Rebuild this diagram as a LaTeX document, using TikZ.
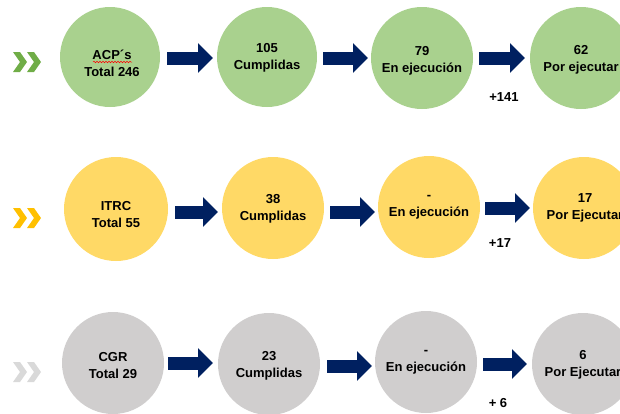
\documentclass[tikz,border=0pt]{standalone}
\usepackage{fontspec}
\setmainfont{Liberation Sans}
\usetikzlibrary{arrows.meta,decorations.pathmorphing,calc}
\definecolor{cgreen}{HTML}{A9D18E}
\definecolor{cyellow}{HTML}{FFD966}
\definecolor{cgray}{HTML}{D0CECE}
\definecolor{chgreen}{HTML}{70AD47}
\definecolor{chyellow}{HTML}{FFC000}
\definecolor{chgray}{HTML}{D9D9D9}
\definecolor{navy}{HTML}{002060}
\tikzset{
  bub/.style={circle, inner sep=0pt, minimum size=102pt},
  btext/.style={inner sep=0pt, align=center,
    font=\bfseries\fontsize{13}{17}\selectfont, text=black},
  bigarrow/.style={draw=navy, line width=13pt, line cap=butt,
    -{Triangle[length=15pt,width=29pt]}},
  plus/.style={font=\bfseries\fontsize{13}{15}\selectfont, text=black},
  chev/.pic={\fill (0,-10) -- (7,-10) -- (14,0) -- (7,10) -- (0,10) -- (7,0) -- cycle;
             \fill (14,-10) -- (21,-10) -- (28,0) -- (21,10) -- (14,10) -- (21,0) -- cycle;}
}
\begin{document}
\begin{tikzpicture}[x=1pt,y=-1pt]
\useasboundingbox (0,0) rectangle (620,413);
\clip (0,0) rectangle (620,413);
% chevrons
\pic[fill=chgreen] at (13,62) {chev};
\pic[fill=chyellow] at (13,218) {chev};
\pic[fill=chgray] at (13,372) {chev};
% row 1
\node[bub, fill=cgreen, minimum size=100pt] (a1) at (110,57) {};
\node[bub, fill=cgreen, minimum size=100pt] (a2) at (267,57) {};
\node[bub, fill=cgreen] (a3) at (422,58) {};
\node[bub, fill=cgreen] (a4) at (581,58) {};
\node[btext] (a1t) at ($(a1.center)+(2,6)$) {ACP´s\\Total 246};
\node[btext] (a2t) at ($(a2.center)+(0,0.5)$) {105\\Cumplidas};
\node[btext] (a3t) at ($(a3.center)+(0,3)$) {79\\En ejecución};
\node[btext] (a4t) at ($(a4.center)+(0,1.5)$) {62\\Por ejecutar};
\draw[red, line width=0.5pt, decorate, decoration={snake, amplitude=0.8pt, segment length=3pt}]
  ($(a1t.center)+(-19,-1)$) -- ($(a1t.center)+(20,-1)$);
\coordinate (a12s) at (167,58); \coordinate (a12e) at (213,58);
\coordinate (a23s) at (323,58); \coordinate (a23e) at (368,58);
\coordinate (a34s) at (479,58); \coordinate (a34e) at (525,58);
\draw[bigarrow] (a12s) -- (a12e);
\draw[bigarrow] (a23s) -- (a23e);
\draw[bigarrow] (a34s) -- (a34e);
\node[plus] (p1) at (504,97) {+141};
% row 2
\node[bub, fill=cyellow, minimum size=104pt] (b1) at (116,209) {};
\node[bub, fill=cyellow] (b2) at (273,208) {};
\node[bub, fill=cyellow] (b3) at (429,207) {};
\node[bub, fill=cyellow] (b4) at (584,208) {};
\node[btext] (b1t) at ($(b1.center)+(0,5.5)$) {ITRC\\Total 55};
\node[btext] (b2t) at ($(b2.center)+(0,0.5)$) {38\\Cumplidas};
\node[btext] (b3t) at ($(b3.center)+(0,0)$) {-\\En ejecución};
\node[btext] (b4t) at ($(b4.center)+(1,-0.5)$) {17\\Por Ejecutar};
\coordinate (b12s) at (175,212); \coordinate (b12e) at (218,212);
\coordinate (b23s) at (330,212); \coordinate (b23e) at (375,212);
\coordinate (b34s) at (485,208); \coordinate (b34e) at (530,208);
\draw[bigarrow] (b12s) -- (b12e);
\draw[bigarrow] (b23s) -- (b23e);
\draw[bigarrow] (b34s) -- (b34e);
\node[plus] (p2) at (500,243) {+17};
% row 3
\node[bub, fill=cgray] (c1) at (113,363) {};
\node[bub, fill=cgray] (c2) at (269,364) {};
\node[bub, fill=cgray] (c3) at (426,362) {};
\node[bub, fill=cgray] (c4) at (583,364) {};
\node[btext] (c1t) at ($(c1.center)+(0,3)$) {CGR\\Total 29};
\node[btext] (c2t) at ($(c2.center)+(0,2)$) {23\\Cumplidas};
\node[btext] (c3t) at ($(c3.center)+(0,0.5)$) {-\\En ejecución};
\node[btext] (c4t) at ($(c4.center)+(0,1)$) {6\\Por Ejecutar};
\coordinate (c12s) at (168,363); \coordinate (c12e) at (213,363);
\coordinate (c23s) at (327,366); \coordinate (c23e) at (372,366);
\coordinate (c34s) at (483,364); \coordinate (c34e) at (527,364);
\draw[bigarrow] (c12s) -- (c12e);
\draw[bigarrow] (c23s) -- (c23e);
\draw[bigarrow] (c34s) -- (c34e);
\node[plus] (p3) at (498,403) {+ 6};
\end{tikzpicture}
\end{document}
